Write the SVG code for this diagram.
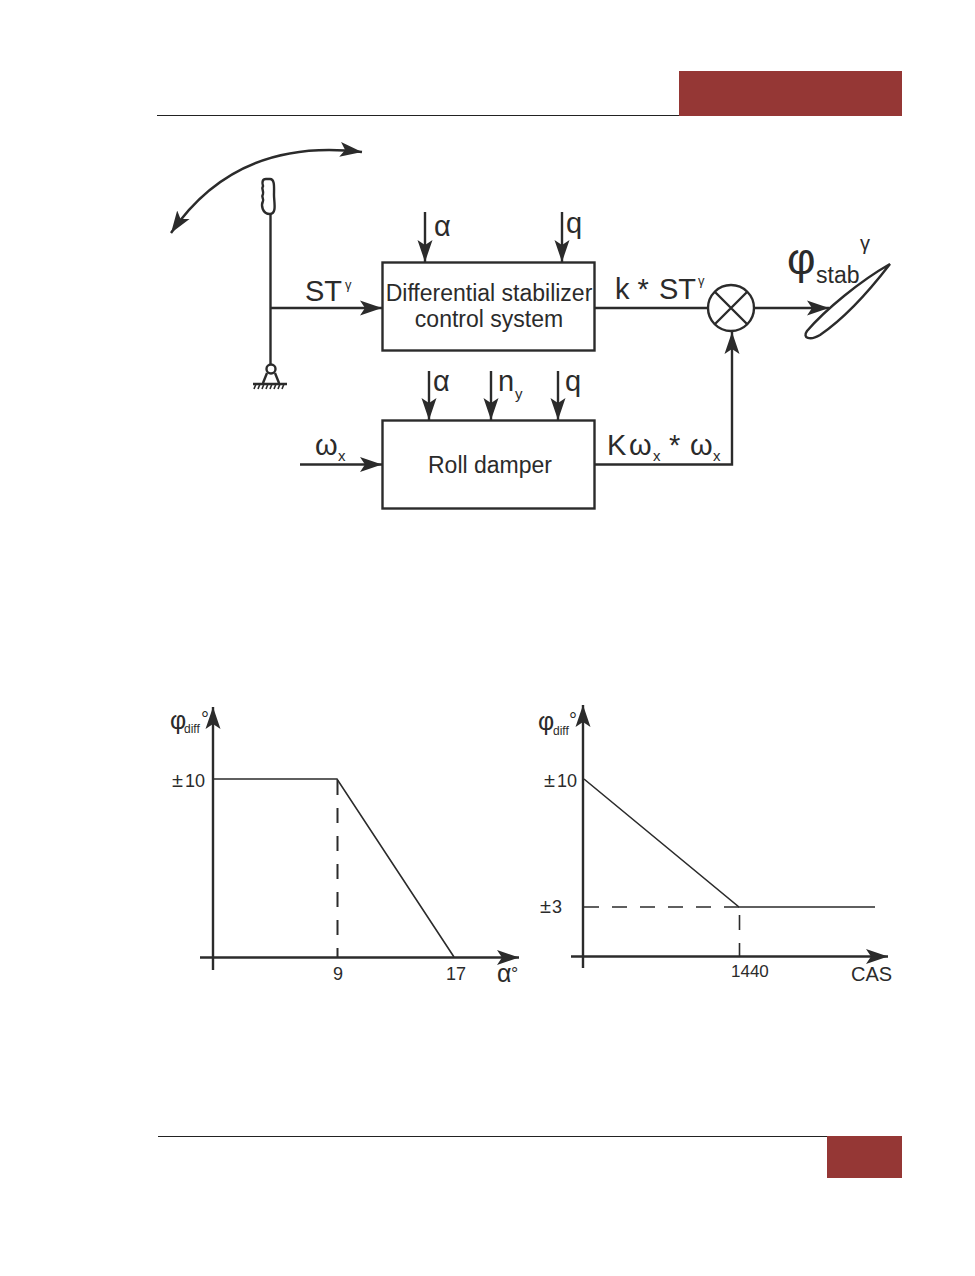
<svg xmlns="http://www.w3.org/2000/svg" width="975" height="1276" viewBox="0 0 975 1276">
<style>
text{font-family:"Liberation Sans",Arial,sans-serif;fill:#2b2b2b}
.ln{fill:none;stroke:#2b2b2b;stroke-width:2.4}
.th{fill:none;stroke:#2b2b2b;stroke-width:1.6}
.ar{marker-end:url(#a)}
.d{stroke-dasharray:15 13}
.l{font-size:29px}
.b{font-size:23px;text-anchor:middle}
.t{font-size:18px}
.pm{font-size:20px}
</style>
<defs>
<marker id="a" markerUnits="userSpaceOnUse" markerWidth="26" markerHeight="18" refX="22" refY="9" orient="auto-start-reverse">
<path d="M0 1.500L22 9L0 16.500L5 9Z" fill="#2b2b2b"/>
</marker>
</defs>
<rect width="975" height="1276" fill="#fff"/>
<g id="page-furniture">
<rect x="679" y="71" width="223" height="45" fill="#953735"/>
<rect x="827" y="1136" width="75" height="42" fill="#953735"/>
<path d="M157 115.500H679M158 1136.500H827" stroke="#222" stroke-width="1" fill="none"/>
</g>
<g id="connectors">
<path class="ln ar" style="marker-start:url(#a)" d="M171 233C205 183 262 140 362 152"/>
<path class="ln" d="M270.500 213V365"/>
<path class="ln ar" d="M271 308H382"/>
<path class="ln ar" d="M425 212V262"/>
<path class="ln ar" d="M562 212V262"/>
<path class="ln" d="M595 308H707"/>
<path class="ln ar" d="M755 308H829"/>
<path class="ln ar" d="M429 371V420"/>
<path class="ln ar" d="M491 371V420"/>
<path class="ln ar" d="M558 371V420"/>
<path class="ln ar" d="M300 464.500H382"/>
<path class="ln ar" d="M595 464.500H732V332"/>
</g>
<g id="stick">
<path class="ln" d="M266 179C262 179 262 183 263 186C261 189 264 191 263 194C261 197 264 199 263 201C261 205 262 214 270 214C277 214 274 202 274 195C274 188 275 179 270 179Z"/>
<circle class="ln" cx="271" cy="369" r="4.500"/>
<path class="ln" d="M267 373L263 383M275 373L279 383M253 384H287"/>
<path class="th" d="M256 384L254 389M260 384L258 389M264 384L262 389M268 384L266 389M272 384L270 389M276 384L274 389M280 384L278 389M284 384L282 389"/>
</g>
<g id="stabilizer-system">
<rect class="ln" x="382.500" y="262.500" width="212" height="88"/>
<text class="b" x="489" y="301">Differential stabilizer</text>
<text class="b" x="489" y="327">control system</text>
</g>
<g id="roll-damper">
<rect class="ln" x="382.500" y="420.500" width="212" height="88"/>
<text class="b" x="490" y="473">Roll damper</text>
</g>
<g id="summer">
<circle class="ln" cx="731" cy="308" r="23"/>
<path class="ln" d="M715 292L747 324M747 292L715 324"/>
</g>
<g id="surface">
<path class="ln" d="M890 264C860 281 825 310 807 331C802 338 810 341 820 335C845 318 870 290 890 264Z"/>
</g>
<g id="labels">
<text class="l" x="305" y="301">ST</text><text x="345" y="289" font-size="13">γ</text>
<text x="434" y="236" font-size="29">α</text>
<text x="566" y="233" font-size="29">q</text>
<text class="l" x="615" y="299">k *</text><text class="l" x="659" y="299">ST</text><text x="698" y="285" font-size="13">γ</text>
<text x="787" y="274" font-size="44">φ</text><text x="816" y="283" font-size="23">stab</text><text x="860" y="250" font-size="20">γ</text>
<text x="433" y="391" font-size="29">α</text>
<text x="498" y="391" font-size="29">n</text><text x="515" y="399" font-size="15">y</text>
<text x="565" y="391" font-size="29">q</text>
<text x="315" y="455" font-size="29">ω</text><text x="338" y="461" font-size="15">x</text>
<text class="l" x="607" y="455">K</text><text x="629" y="455" font-size="29">ω</text><text x="653" y="461" font-size="15">x</text>
<text class="l" x="669" y="455">*</text><text x="690" y="455" font-size="29">ω</text><text x="713" y="461" font-size="15">x</text>
</g>
<g id="chart-alpha">
<path class="ln ar" d="M213 970V707"/>
<path class="ln ar" d="M200 957.500H519"/>
<path class="th" d="M214 779H337L454 957"/>
<path class="th d" style="stroke-width:2" d="M337.500 780V957"/>
<text x="170" y="729" font-size="25">φ</text><text x="184" y="733" font-size="12">diff</text><text x="201" y="726" font-size="20">°</text>
<text class="pm" x="172" y="787">±</text><text class="t" x="185" y="787">10</text>
<text class="t" x="333" y="980">9</text>
<text class="t" x="446" y="980">17</text>
<text x="497" y="982" font-size="25">α</text><text x="511" y="980" font-size="18">°</text>
</g>
<g id="chart-cas">
<path class="ln ar" d="M583 968V705"/>
<path class="ln ar" d="M571 956.500H888"/>
<path class="th" d="M584 779L739 907H875"/>
<path class="th d" d="M584 907H739"/>
<path class="th d" d="M739.500 915V957"/>
<text x="538" y="730" font-size="25">φ</text><text x="553" y="735" font-size="12">diff</text><text x="569" y="727" font-size="20">°</text>
<text class="pm" x="544" y="787">±</text><text class="t" x="557" y="787">10</text>
<text class="pm" x="540" y="913">±</text><text class="t" x="552" y="913">3</text>
<text x="731" y="977" font-size="17">1440</text>
<text x="851" y="981" font-size="20">CAS</text>
</g>
</svg>
